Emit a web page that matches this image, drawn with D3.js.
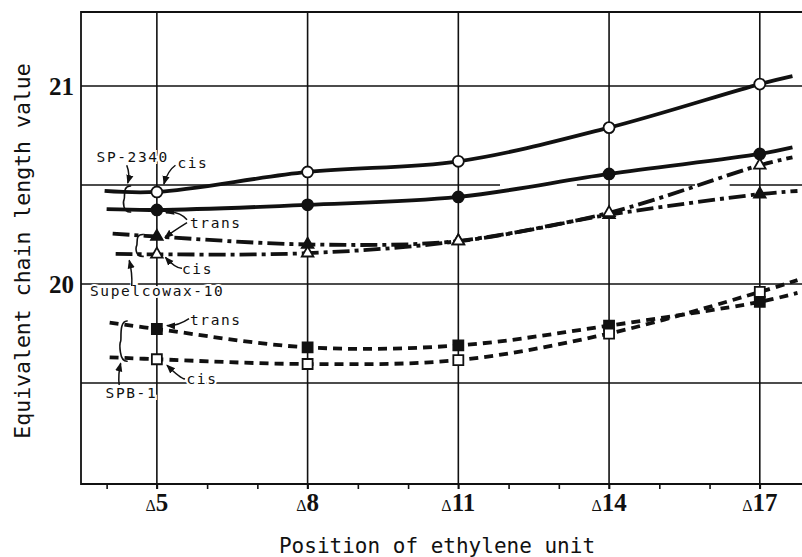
<!DOCTYPE html>
<html>
<head>
<meta charset="utf-8">
<script src="https://cdn.jsdelivr.net/npm/d3@7"></script>
<style>
  body { margin: 0; background: #fff; }
  svg { display: block; }
</style>
</head>
<body>
<div id="chart"></div>
<script>
// positions of the ethylene unit (x) and tick labels
var positions = [5, 8, 11, 14, 17];
var tickLabels = ["5", "8", "11", "14", "17"];
var yTicks = [21, 20];
var gridY = [21, 20.5, 20, 19.5];

// equivalent chain length values
var spCis    = [20.465, 20.566, 20.62, 20.79, 21.01];
var spTrans  = [20.374, 20.40, 20.44, 20.556, 20.657];
var swTrans  = [20.24, 20.20, 20.217, 20.35, 20.454];
var swCis    = [20.15, 20.156, 20.217, 20.36, 20.60];
var spbTrans = [19.773, 19.68, 19.69, 19.79, 19.91];
var spbCis   = [19.62, 19.596, 19.616, 19.75, 19.96];

// where each drawn curve starts / stops
// order: spCis, spTrans, swTrans, swCis, spbTrans, spbCis
var lineStartX = [3.96, 4.0, 4.12, 4.18, 4.06, 4.06];
var lineStartY = [20.47, 20.378, 20.255, 20.152, 19.805, 19.63];
var lineEndX   = [17.65, 17.65, 17.75, 17.65, 17.75, 17.75];
var lineEndY   = [21.05, 20.69, 20.47, 20.64, 19.955, 20.02];

// gaps in the 20.5 grid line of the original
var gridGaps = [[11.83, 13.36], [15.71, 16.4]];

var width = 802, height = 557;
var margin = { top: 12, left: 81, bottom: 73 };

var svg = d3.select("#chart")
    .append("svg")
    .attr("width", width)
    .attr("height", height);

var x = d3.scaleLinear()
    .domain([3.49, 17.84])
    .range([margin.left, width]);

var y = d3.scaleLinear()
    .domain([18.99, 21.374])
    .range([height - margin.bottom, margin.top]);

var x0 = x.range()[0], x1 = x.range()[1];
var yb = y.range()[0], yt = y.range()[1];

// grid
var grid = svg.append("g").attr("stroke", "#111").attr("stroke-width", 1.6);
positions.forEach(function (p) {
    grid.append("line")
        .attr("x1", x(p)).attr("x2", x(p))
        .attr("y1", yt).attr("y2", yb + 5);
});
gridY.forEach(function (v) {
    var segs = [[x.domain()[0], x.domain()[1]]];
    if (v == 20.5) {
        segs = [];
        var s = x.domain()[0];
        gridGaps.forEach(function (g) { segs.push([s, g[0]]); s = g[1]; });
        segs.push([s, x.domain()[1]]);
    }
    segs.forEach(function (sg) {
        grid.append("line")
            .attr("x1", x(sg[0])).attr("x2", x(sg[1]))
            .attr("y1", y(v)).attr("y2", y(v));
    });
});

// frame (left, top, bottom)
svg.append("path")
    .attr("d", "M" + x1 + "," + yt + "H" + x0 + "V" + yb + "H" + x1)
    .attr("fill", "none")
    .attr("stroke", "#111")
    .attr("stroke-width", 1.8);

// minor ticks on the bottom axis
svg.append("g")
    .attr("transform", "translate(0," + yb + ")")
    .call(d3.axisBottom(x).tickValues(d3.range(4, 18)).tickSize(5).tickFormat(""))
    .call(function (g) { g.select(".domain").remove(); })
    .selectAll("line").attr("stroke", "#111").attr("stroke-width", 1.6);

// x tick labels
var xl = svg.append("g");
positions.forEach(function (p, i) {
    var t = xl.append("text")
        .attr("x", x(p))
        .attr("y", yb + 27)
        .attr("text-anchor", "middle")
        .attr("font-family", "Liberation Serif, serif")
        .attr("fill", "#111");
    t.append("tspan").attr("font-size", 16).text("\u0394");
    t.append("tspan").attr("font-size", 25).attr("font-weight", "bold").text(tickLabels[i]);
});

// y tick labels
yTicks.forEach(function (v) {
    svg.append("text")
        .attr("x", x0 - 7)
        .attr("y", y(v) + 9)
        .attr("text-anchor", "end")
        .attr("font-family", "Liberation Serif, serif")
        .attr("font-weight", "bold")
        .attr("font-size", 25)
        .attr("fill", "#111")
        .text(v);
});

// axis titles
svg.append("text")
    .attr("x", 437)
    .attr("y", 553)
    .attr("text-anchor", "middle")
    .attr("font-family", "DejaVu Sans Mono, monospace")
    .attr("font-size", 21)
    .attr("fill", "#111")
    .text("Position of ethylene unit");

svg.append("text")
    .attr("transform", "translate(30,251) rotate(-90)")
    .attr("text-anchor", "middle")
    .attr("font-family", "DejaVu Sans Mono, monospace")
    .attr("font-size", 21.5)
    .attr("fill", "#111")
    .text("Equivalent chain length value");

// curves
var series = [
    { values: spCis,    dash: null,          fill: "#fff", shape: "circle" },
    { values: spTrans,  dash: null,          fill: "#111", shape: "circle" },
    { values: swTrans,  dash: "17,5,4,5",    fill: "#111", shape: "triangle" },
    { values: swCis,    dash: "17,5,4,5",    fill: "#fff", shape: "triangle" },
    { values: spbTrans, dash: "9,6",         fill: "#111", shape: "square" },
    { values: spbCis,   dash: "9,6",         fill: "#fff", shape: "square" }
];

var line = d3.line()
    .x(function (d) { return x(d[0]); })
    .y(function (d) { return y(d[1]); })
    .curve(d3.curveCatmullRom.alpha(0.5));

series.forEach(function (s, i) {
    var pts = [[lineStartX[i], lineStartY[i]]];
    positions.forEach(function (p, j) { pts.push([p, s.values[j]]); });
    pts.push([lineEndX[i], lineEndY[i]]);
    svg.append("path")
        .datum(pts)
        .attr("d", line)
        .attr("fill", "none")
        .attr("stroke", "#111")
        .attr("stroke-width", 3.8)
        .attr("stroke-dasharray", s.dash);
});

// annotations (labels, arrows, braces)
var defs = svg.append("defs");
defs.append("marker")
    .attr("id", "ah")
    .attr("viewBox", "0 0 10 10")
    .attr("refX", 9).attr("refY", 5)
    .attr("markerWidth", 6).attr("markerHeight", 6)
    .attr("orient", "auto")
    .append("path")
    .attr("d", "M0,1L10,5L0,9z")
    .attr("fill", "#111");

var ann = svg.append("g");

function label(txt, ux, uy) {
    ann.append("text")
        .attr("x", x(ux)).attr("y", y(uy))
        .attr("font-family", "DejaVu Sans Mono, monospace")
        .attr("font-size", 14.5)
        .attr("letter-spacing", 1.6)
        .attr("fill", "#111")
        .attr("stroke", "#fff")
        .attr("stroke-width", 4)
        .attr("paint-order", "stroke")
        .text(txt);
}

// arrow from one point to another, cdx/cdy bend the control point (px)
function arrow(ax, ay, bx, by, cdx, cdy) {
    var p0 = [x(ax), y(ay)], p1 = [x(bx), y(by)];
    var c = [(p0[0] + p1[0]) / 2 + cdx, (p0[1] + p1[1]) / 2 + cdy];
    ann.append("path")
        .attr("d", "M" + p0 + "Q" + c + " " + p1)
        .attr("fill", "none")
        .attr("stroke", "#111")
        .attr("stroke-width", 1.5)
        .attr("marker-end", "url(#ah)");
}

function brace(ux, top, bot) {
    var bx = x(ux), t = y(top), b = y(bot), m = (t + b) / 2;
    ann.append("path")
        .attr("d", "M" + (bx + 7) + "," + (t - 2) + "C" + (bx - 2) + "," + (t - 3) + " " + (bx + 1) + "," + (m - 2) + " " + bx + "," + m +
            "C" + (bx - 1) + "," + (m + 2) + " " + (bx - 2) + "," + (b + 3) + " " + (bx + 7) + "," + (b + 2))
        .attr("fill", "none")
        .attr("stroke", "#111")
        .attr("stroke-width", 1.6);
}

brace(4.35, spCis[0] + 0.02, spTrans[0]);
brace(4.6, swTrans[0], swCis[0]);
brace(4.28, spbTrans[0] + 0.03, spbCis[0]);

label("SP-2340", 3.8, 20.615);
label("cis", 5.41, 20.585);
label("trans", 5.66, 20.285);
label("cis", 5.5, 20.05);
label("Supelcowax-10", 3.67, 19.94);
label("trans", 5.66, 19.795);
label("cis", 5.59, 19.497);
label("SPB-1", 3.98, 19.425);

arrow(4.4, 20.6, 4.42, 20.51, 3, 0);
arrow(5.37, 20.6, 5.14, 20.505, -2, -4);
arrow(5.6, 20.325, 5.18, 20.36, 2, -6);
arrow(5.6, 20.31, 5.16, 20.235, -4, 2);
arrow(5.5, 20.08, 5.17, 20.135, 2, 6);
arrow(4.5, 19.99, 4.45, 20.12, 2, 0);
arrow(5.64, 19.825, 5.2, 19.79, 0, 4);
arrow(5.56, 19.52, 5.2, 19.59, 4, 6);
arrow(4.25, 19.49, 4.28, 19.6, -2, 0);

// markers
var sym = {
    circle: d3.symbol().type(d3.symbolCircle).size(Math.PI * 30),
    triangle: d3.symbol().type(d3.symbolTriangle).size(58),
    square: d3.symbol().type(d3.symbolSquare).size(100)
};

series.forEach(function (s) {
    svg.append("g")
        .selectAll("path")
        .data(s.values)
        .enter()
        .append("path")
        .attr("transform", function (d, j) {
            return "translate(" + x(positions[j]) + "," + y(d) + ")";
        })
        .attr("d", sym[s.shape]())
        .attr("fill", s.fill)
        .attr("stroke", "#111")
        .attr("stroke-width", 1.8);
});
</script>
</body>
</html>
